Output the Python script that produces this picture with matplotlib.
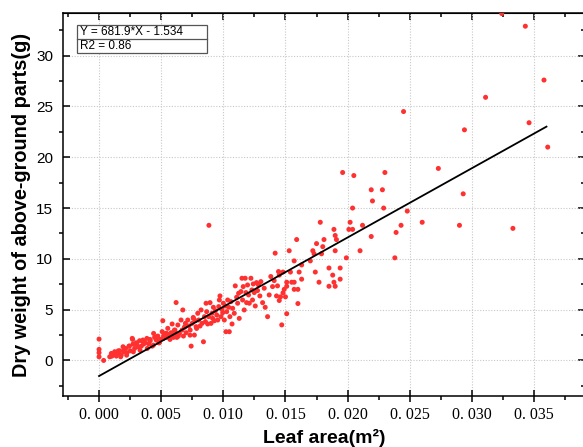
import matplotlib
matplotlib.use("Agg")
import matplotlib.pyplot as plt
from matplotlib.patches import Rectangle

# ---------------- data ----------------
leaf_area = [
    0.00000, 0.00000, 0.00000, 0.00000, 0.00037, 0.00086, 0.00099, 0.00112, 0.00126, 0.00139,
    0.00152, 0.00166, 0.00179, 0.00193, 0.00198, 0.00214, 0.00225, 0.00241, 0.00251, 0.00267,
    0.00273, 0.00286, 0.00299, 0.00313, 0.00326, 0.00340, 0.00353, 0.00358, 0.00374, 0.00385,
    0.00401, 0.00412, 0.00428, 0.00439, 0.00447, 0.00460, 0.00473, 0.00481, 0.00492, 0.00508,
    0.00513, 0.00519, 0.00535, 0.00545, 0.00553, 0.00567, 0.00580, 0.00588, 0.00599, 0.00607,
    0.00615, 0.00626, 0.00634, 0.00647, 0.00620, 0.00660, 0.00668, 0.00674, 0.00679, 0.00687,
    0.00695, 0.00701, 0.00714, 0.00722, 0.00733, 0.00741, 0.00749, 0.00759, 0.00767, 0.00775,
    0.00781, 0.00794, 0.00802, 0.00813, 0.00821, 0.00829, 0.00840, 0.00848, 0.00856, 0.00861,
    0.00866, 0.00874, 0.00882, 0.00893, 0.00901, 0.00909, 0.00914, 0.00920, 0.00928, 0.00936,
    0.00947, 0.00955, 0.00963, 0.00968, 0.00973, 0.00981, 0.00989, 0.00995, 0.01000, 0.01008,
    0.01016, 0.01021, 0.01027, 0.01035, 0.01043, 0.01048, 0.01053, 0.01061, 0.01070, 0.01075,
    0.01088, 0.01096, 0.01107, 0.01115, 0.01123, 0.01128, 0.01142, 0.01150, 0.01155, 0.01160,
    0.01168, 0.01176, 0.01182, 0.01187, 0.01195, 0.01203, 0.01209, 0.01222, 0.01230, 0.01235,
    0.01241, 0.01249, 0.01257, 0.01267, 0.01275, 0.01283, 0.01294, 0.01302, 0.01316, 0.01329,
    0.01337, 0.01356, 0.01369, 0.01382, 0.01396, 0.01409, 0.01417, 0.01428, 0.01436, 0.01444,
    0.00884,
    0.00102, 0.00129, 0.00155, 0.00174, 0.00201, 0.00222, 0.00244, 0.00276, 0.00303, 0.00330,
    0.00356, 0.00388, 0.00410, 0.00437, 0.00464, 0.00485, 0.00270, 0.00517, 0.00544, 0.00571,
    0.00611, 0.00638, 0.00691, 0.00732, 0.00758, 0.00785,
    0.01480, 0.01540, 0.01610, 0.01450, 0.01590, 0.01530, 0.01570, 0.01630, 0.01700, 0.01630,
    0.01510, 0.01550, 0.01570, 0.01510, 0.01490, 0.01570, 0.01600, 0.01480, 0.01460, 0.01500,
    0.01450, 0.01600, 0.01510, 0.01470,
    0.01750, 0.01810, 0.01720, 0.01730, 0.01800, 0.01790, 0.01900, 0.01740, 0.01850, 0.01940,
    0.01880, 0.01940, 0.01770, 0.01890, 0.01900, 0.01850, 0.01780, 0.01890, 0.01900, 0.01910,
    0.02010, 0.02040, 0.02020, 0.02120, 0.02190, 0.02100, 0.01990, 0.02380,
    0.01960, 0.02050, 0.02300, 0.02190, 0.02280, 0.02200, 0.02040, 0.02290, 0.02480, 0.02430,
    0.02390, 0.02600, 0.02900, 0.03330, 0.02730, 0.02930, 0.02450, 0.02940, 0.03110, 0.03460,
    0.03610, 0.03580, 0.03430, 0.03240,
]
dry_weight = [
    2.10, 1.09, 0.76, 0.36, 0.00, 0.36, 0.69, 0.53, 0.86, 0.43,
    0.69, 0.95, 0.53, 1.35, 0.86, 1.18, 0.76, 1.41, 0.95, 2.17,
    1.61, 1.18, 1.74, 1.35, 1.94, 1.41, 2.01, 1.61, 1.74, 2.17,
    1.61, 1.94, 1.41, 2.66, 2.27, 2.01, 2.40, 1.74, 2.07, 2.83,
    3.91, 2.40, 2.66, 2.27, 3.16, 2.50, 2.73, 3.59, 2.27, 2.99,
    2.66, 2.27, 3.49, 2.66, 5.70, 3.98, 2.99, 4.97, 2.40, 3.26,
    3.65, 2.73, 3.98, 3.39, 2.99, 1.41, 3.65, 4.14, 2.50, 3.91,
    3.32, 4.64, 3.98, 3.39, 4.97, 3.65, 1.84, 4.31, 3.82, 5.63,
    4.80, 3.59, 4.31, 5.69, 3.65, 4.64, 4.14, 5.23, 3.91, 4.90,
    4.47, 3.98, 5.30, 5.95, 6.35, 4.31, 5.03, 4.70, 5.63, 3.98,
    5.36, 2.83, 4.80, 5.95, 5.23, 2.83, 4.31, 5.79, 3.59, 5.13,
    4.64, 7.34, 6.22, 5.63, 6.61, 4.14, 6.78, 8.09, 5.95, 7.27,
    4.97, 8.09, 6.68, 5.69, 7.43, 6.45, 5.63, 8.09, 6.94, 5.95,
    7.53, 6.68, 5.36, 7.66, 6.88, 7.43, 6.35, 7.76, 5.69, 7.11,
    5.23, 4.31, 6.45, 8.26, 7.27, 7.86, 10.56, 6.35, 7.34, 8.75,
    13.30,
    0.42, 0.75, 0.95, 0.36, 1.08, 0.52, 1.41, 0.85, 1.60, 1.01,
    1.83, 1.18, 2.07, 1.51, 2.32, 1.74, 2.07, 2.16, 2.66, 2.07,
    2.98, 2.39, 3.31, 2.49, 4.23, 3.15,
    8.70, 8.70, 8.70, 8.40, 11.90, 10.80, 9.80, 9.40, 9.80, 8.00,
    7.70, 7.70, 7.70, 7.30, 7.00, 7.00, 7.00, 6.65, 6.26, 6.26,
    5.90, 5.60, 4.60, 3.50,
    11.50, 11.90, 10.80, 10.50, 11.20, 10.50, 10.80, 8.70, 9.10, 9.10,
    8.40, 8.00, 7.70, 7.70, 7.30, 7.30, 13.60, 12.90, 12.30, 11.90,
    12.90, 12.90, 13.60, 13.30, 12.20, 10.80, 10.10, 10.10,
    18.50, 18.20, 18.50, 16.80, 16.80, 15.70, 15.00, 15.00, 14.70, 13.30,
    12.60, 13.60, 13.30, 13.00, 18.90, 16.40, 24.50, 22.70, 25.90, 23.40,
    21.00, 27.60, 32.90, 34.15,
]

fit_slope = 681.9
fit_intercept = -1.534
fit_x_range = [0.0, 0.0360]

x_major_ticks = [0.000, 0.005, 0.010, 0.015, 0.020, 0.025, 0.030, 0.035]
x_tick_labels = ["0. 000", "0. 005", "0. 010", "0. 015", "0. 020", "0. 025", "0. 030", "0. 035"]
x_minor_ticks = [-0.0025, 0.0025, 0.0075, 0.0125, 0.0175, 0.0225, 0.0275, 0.0325, 0.0375]
y_major_ticks = [0, 5, 10, 15, 20, 25, 30]
y_tick_labels = ["0", "5", "10", "15", "20", "25", "30"]
y_minor_ticks = [-2.5, 2.5, 7.5, 12.5, 17.5, 22.5, 27.5, 32.5]
x_limits = (-0.0029, 0.0391)
y_limits = (-3.5, 34.2)
legend_lines = ["Y = 681.9*X - 1.534", "R2 = 0.86"]
x_label = "Leaf area(m²)"
y_label = "Dry weight of above-ground parts(g)"

# ---------------- figure ----------------
plt.rcParams['font.family'] = ['Liberation Sans', 'DejaVu Sans']

W, H = 583, 447
fig = plt.figure(figsize=(W / 100, H / 100), dpi=100)
ax = fig.add_axes([63 / W, 1 - 396 / H, 522 / W, 383 / H])

ax.scatter(leaf_area, dry_weight, s=13, c='#ff3030', edgecolors='none', zorder=3)
fit_y = [fit_slope * v + fit_intercept for v in fit_x_range]
ax.plot(fit_x_range, fit_y, color='black', linewidth=1.3, zorder=4)

ax.set_xlim(*x_limits)
ax.set_ylim(*y_limits)

ax.set_xticks(x_major_ticks)
ax.set_xticklabels(x_tick_labels, fontfamily='Liberation Serif', fontsize=11.5)
ax.set_xticks(x_minor_ticks, minor=True)
ax.set_yticks(y_major_ticks)
ax.set_yticklabels(y_tick_labels, fontsize=11)
ax.set_yticks(y_minor_ticks, minor=True)

ax.tick_params(axis='x', which='major', direction='inout', length=8, width=1.1, pad=4)
ax.tick_params(axis='x', which='minor', direction='out', length=3, width=1.1)
ax.tick_params(axis='y', which='major', direction='in', length=5, width=1.1, pad=7)
ax.tick_params(axis='y', which='minor', direction='out', length=3, width=1.1)

for s in ax.spines.values():
    s.set_linewidth(1.1)

# top and right axes: inward ticks without labels
top = ax.secondary_xaxis('top')
top.set_xticks(x_major_ticks)
top.set_xticklabels([])
top.set_xticks(x_minor_ticks, minor=True)
top.tick_params(which='major', direction='in', length=5, width=1.1)
top.tick_params(which='minor', direction='in', length=3, width=1.1)
right = ax.secondary_yaxis('right')
right.set_yticks(y_major_ticks)
right.set_yticklabels([])
right.set_yticks(y_minor_ticks, minor=True)
right.tick_params(which='major', direction='in', length=5, width=1.1)
right.tick_params(which='minor', direction='in', length=3, width=1.1)

ax.grid(True, which='major', linestyle=(0, (1, 1.5)), color='#c8c8c8', linewidth=0.8, zorder=0)
ax.set_axisbelow(True)

ax.set_xlabel(x_label, fontsize=14, fontweight='bold', labelpad=4)
ax.set_ylabel(y_label, fontsize=14.3, fontweight='bold')
ax.yaxis.set_label_coords(-0.061, 0.5)

# equation table
bx0, bx1 = 0.027, 0.275
by0, bym, by1 = 0.896, 0.932, 0.969
ax.add_patch(Rectangle((bx0, by0), bx1 - bx0, by1 - by0, transform=ax.transAxes,
                       facecolor='white', edgecolor='#555555', linewidth=0.9, zorder=5))
ax.plot([bx0, bx1], [bym, bym], transform=ax.transAxes, color='#555555', linewidth=0.9, zorder=6)
ax.text(bx0 + 0.006, (bym + by1) / 2, legend_lines[0], transform=ax.transAxes,
        fontsize=8.5, va='center', ha='left', zorder=7)
ax.text(bx0 + 0.006, (by0 + bym) / 2, legend_lines[1], transform=ax.transAxes,
        fontsize=8.5, va='center', ha='left', zorder=7)

fig.savefig("out.png", dpi=100)
